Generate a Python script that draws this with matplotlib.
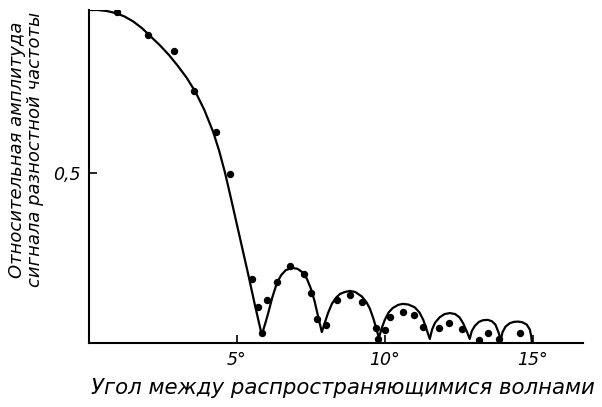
import matplotlib
matplotlib.use("Agg")
import matplotlib.pyplot as plt

# Theoretical curve (angle in degrees, relative amplitude), one list per lobe
main_x = [0.0, 0.3, 0.6, 0.9, 1.2, 1.5, 1.8, 2.1, 2.4, 2.7, 3.0, 3.3, 3.6, 3.9,
          4.2, 4.4, 4.6, 4.8, 5.1, 5.4, 5.6, 5.84]
main_y = [0.979, 0.979, 0.976, 0.970, 0.960, 0.945, 0.925, 0.900, 0.875, 0.847,
          0.815, 0.780, 0.738, 0.685, 0.620, 0.565, 0.500, 0.425, 0.310, 0.195,
          0.115, 0.024]

lobe1_x = [5.84, 5.95, 6.05, 6.20, 6.35, 6.50, 6.65, 6.86, 7.05, 7.23, 7.37, 7.50, 7.62, 7.74, 7.87]
lobe1_y = [0.024, 0.055, 0.085, 0.135, 0.176, 0.200, 0.214, 0.221, 0.218, 0.207, 0.188, 0.160, 0.125, 0.080, 0.032]

lobe2_x = [7.87, 7.97, 8.08, 8.21, 8.35, 8.48, 8.65, 8.82, 9.00, 9.22, 9.38, 9.50, 9.62, 9.72, 9.80]
lobe2_y = [0.032, 0.059, 0.088, 0.115, 0.133, 0.144, 0.150, 0.153, 0.150, 0.137, 0.120, 0.100, 0.070, 0.040, 0.015]

lobe3_x = [9.80, 9.90, 10.00, 10.13, 10.27, 10.45, 10.61, 10.80, 11.01, 11.17, 11.30, 11.42, 11.52]
lobe3_y = [0.015, 0.045, 0.068, 0.090, 0.103, 0.112, 0.115, 0.113, 0.105, 0.090, 0.068, 0.038, 0.012]

lobe4_x = [11.52, 11.60, 11.70, 11.86, 12.02, 12.20, 12.38, 12.53, 12.66, 12.78, 12.87]
lobe4_y = [0.012, 0.040, 0.060, 0.076, 0.085, 0.088, 0.085, 0.075, 0.056, 0.032, 0.012]

lobe5_x = [12.87, 12.94, 13.04, 13.18, 13.32, 13.48, 13.62, 13.74, 13.84, 13.92]
lobe5_y = [0.012, 0.035, 0.050, 0.062, 0.067, 0.068, 0.064, 0.054, 0.032, 0.009]

lobe6_x = [13.92, 13.98, 14.08, 14.22, 14.36, 14.50, 14.65, 14.80, 14.90, 14.95, 14.97]
lobe6_y = [0.009, 0.032, 0.048, 0.058, 0.062, 0.063, 0.061, 0.054, 0.040, 0.020, 0.003]

# Measured points
meas_x = [0.95, 1.99, 2.87, 3.55, 4.29, 4.76, 5.51, 5.71, 5.84, 6.01, 6.35, 6.79,
          7.26, 7.50, 7.70, 8.01, 8.38, 8.82, 9.22, 9.70, 9.76, 10.00, 10.17,
          10.61, 10.98, 11.28, 11.82, 12.16, 12.60, 13.18, 13.48, 13.85, 14.56]
meas_y = [0.974, 0.906, 0.859, 0.741, 0.621, 0.497, 0.188, 0.106, 0.029, 0.126,
          0.179, 0.226, 0.203, 0.147, 0.071, 0.053, 0.126, 0.141, 0.121, 0.044,
          0.012, 0.038, 0.076, 0.091, 0.082, 0.047, 0.044, 0.059, 0.041, 0.009,
          0.029, 0.012, 0.029]

x_ticks = [5, 10, 15]
x_tick_labels = ["5°", "10°", "15°"]
y_ticks = [0.5]
y_tick_labels = ["0,5"]

x_label = "Угол между распространяющимися волнами"
y_label = "Относительная амплитуда\nсигнала разностной частоты"

fig = plt.figure(figsize=(6.02, 4.07), dpi=100)
ax = fig.add_axes([89 / 602, 1 - 343 / 407, (583 - 89) / 602, (343 - 10) / 407])

lobes = [(main_x, main_y), (lobe1_x, lobe1_y), (lobe2_x, lobe2_y), (lobe3_x, lobe3_y),
         (lobe4_x, lobe4_y), (lobe5_x, lobe5_y), (lobe6_x, lobe6_y)]
curve_x, curve_y = list(main_x), list(main_y)
for lx, ly in lobes[1:]:
    curve_x += lx[1:]
    curve_y += ly[1:]
ax.plot(curve_x, curve_y, color="black", lw=1.6, solid_joinstyle="round")
ax.plot(meas_x, meas_y, "o", color="black", ms=4.3)

ax.set_xlim(0, 16.7)
ax.set_ylim(0, 0.979)
for s in ("top", "right"):
    ax.spines[s].set_visible(False)
for s in ("left", "bottom"):
    ax.spines[s].set_linewidth(1.5)

ax.set_xticks(x_ticks)
ax.set_xticklabels(x_tick_labels, fontsize=12.5, style="italic")
ax.set_yticks(y_ticks)
ax.set_yticklabels(y_tick_labels, fontsize=12.5, style="italic")
ax.tick_params(direction="in", length=6, width=1.2, pad=6)

ax.set_xlabel(x_label, fontsize=15.3, style="italic")
ax.xaxis.set_label_coords(0.514, -0.105)
ax.set_ylabel(y_label, fontsize=13, style="italic", linespacing=1.0)
ax.yaxis.set_label_coords(-0.128, 0.58)
ax.yaxis.label.set_verticalalignment("center")

fig.savefig("out.png", dpi=100)
